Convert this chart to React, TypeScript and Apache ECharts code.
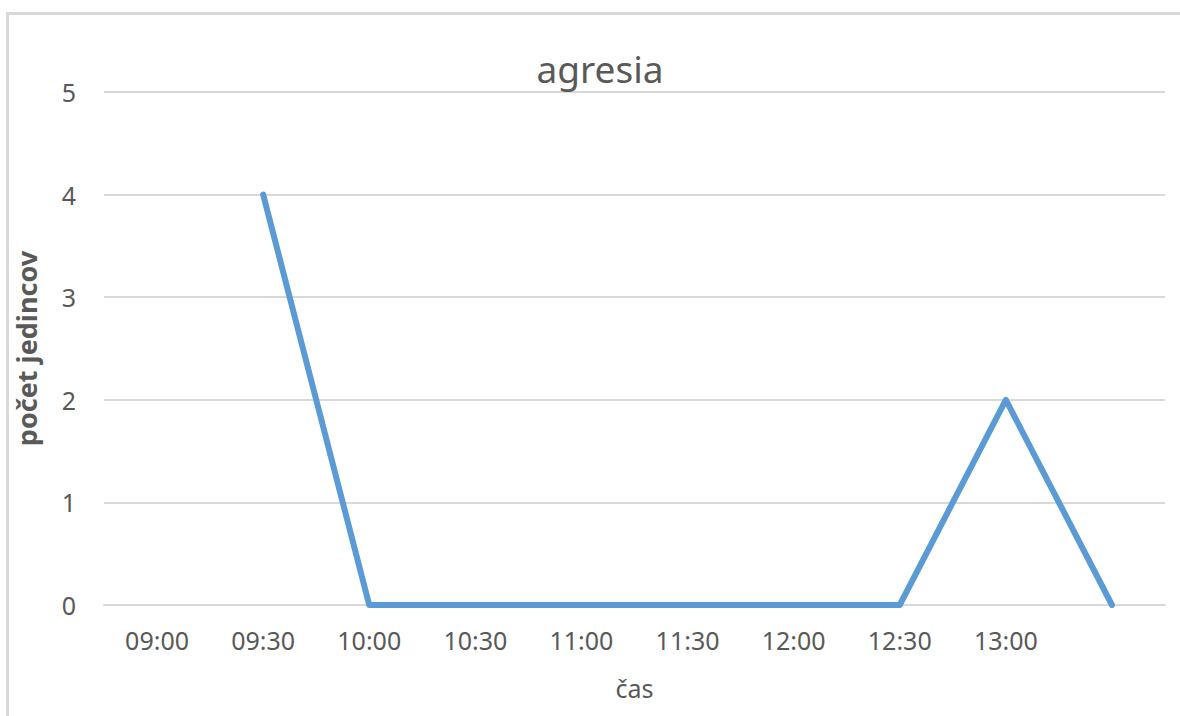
import React, { useEffect, useRef } from "react";
import * as echarts from "echarts";

const categories = ["09:00", "09:30", "10:00", "10:30", "11:00", "11:30", "12:00", "12:30", "13:00", ""];
const counts: (number | string)[] = ["-", 4, 0, 0, 0, 0, 0, 0, 2, 0];
const yTicks = { min: 0, max: 5, interval: 1 };
const titleText = "agresia";
const yName = "počet jedincov";
const xName = "čas";

const FONT = "'Noto Sans', 'Open Sans', sans-serif";
const TXT = "#595959";

export default function App() {
  const ref = useRef<HTMLDivElement>(null);
  useEffect(() => {
    if (!ref.current) return;
    const chart = echarts.init(ref.current, null, { renderer: "svg" });
    chart.setOption({
      animation: false,
      backgroundColor: "#ffffff",
      textStyle: { fontFamily: FONT },
      title: {
        text: titleText,
        left: 595,
        textAlign: "center",
        top: 45,
        textStyle: { fontFamily: FONT, fontSize: 37, fontWeight: "normal", color: TXT },
      },
      graphic: [
        {
          type: "rect",
          shape: { x: 7.5, y: 13.5, width: 1300, height: 900 },
          style: { fill: "none", stroke: "#d9d9d9", lineWidth: 3 },
          silent: true,
        },
      ],
      grid: { left: 104, right: 15, top: 92, bottom: 111 },
      xAxis: {
        type: "category",
        data: categories,
        boundaryGap: true,
        name: xName,
        nameLocation: "middle",
        nameGap: 70,
        nameTextStyle: { fontFamily: FONT, fontSize: 25, color: TXT },
        axisLine: { show: true, lineStyle: { color: "#d9d9d9", width: 2 } },
        axisTick: { show: false },
        axisLabel: { fontFamily: FONT, fontSize: 25, color: TXT, margin: 22 },
      },
      yAxis: {
        type: "value",
        min: yTicks.min,
        max: yTicks.max,
        interval: yTicks.interval,
        name: yName,
        nameLocation: "middle",
        nameGap: 64,
        nameRotate: 90,
        nameTextStyle: { fontFamily: FONT, fontSize: 27, fontWeight: "bold", color: TXT },
        axisLine: { show: false },
        axisTick: { show: false },
        axisLabel: { fontFamily: FONT, fontSize: 25, color: TXT, margin: 28 },
        splitLine: { show: true, lineStyle: { color: "#d9d9d9", width: 2 } },
      },
      series: [
        {
          type: "line",
          data: counts,
          showSymbol: false,
          symbol: "none",
          connectNulls: false,
          lineStyle: { color: "#5b9bd5", width: 6, join: "round", cap: "round" },
          itemStyle: { color: "#5b9bd5" },
        },
      ],
    });
    return () => chart.dispose();
  }, []);
  return (
    <div
      ref={ref}
      style={{ position: "fixed", left: 0, top: 0, width: 1180, height: 716, background: "#fff" }}
    />
  );
}
